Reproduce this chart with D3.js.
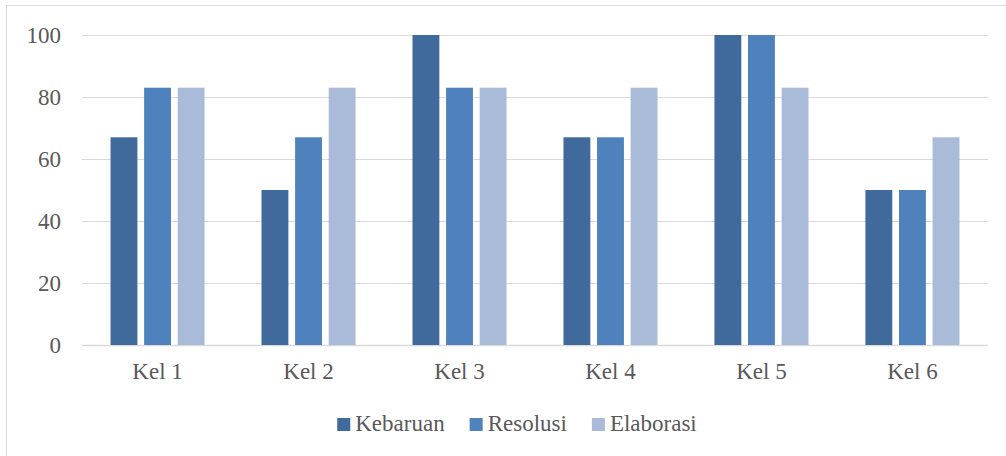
<!DOCTYPE html>
<html>
<head>
<meta charset="utf-8">
<script src="https://cdn.jsdelivr.net/npm/d3@7"></script>
<style>
  body { margin: 0; background: #fff; }
  svg text { font-family: "Liberation Serif", "Times New Roman", serif !important; fill: #595959; }
</style>
</head>
<body>
<div id="plot"></div>
<script>
// chart values
var categories = ["Kel 1", "Kel 2", "Kel 3", "Kel 4", "Kel 5", "Kel 6"];
var seriesNames = ["Kebaruan", "Resolusi", "Elaborasi"];
var kebaruan = [67, 50, 100, 67, 100, 50];
var resolusi = [83, 67, 83, 67, 100, 50];
var elaborasi = [83, 83, 83, 83, 83, 67];
var yTicks = [0, 20, 40, 60, 80, 100];
var colors = ["#406A9B", "#4F81BD", "#AABBD9"];

var svgWidth = 1006;
var svgHeight = 456;

var margin = { top: 35, right: 18, bottom: 111, left: 82 };
var width = svgWidth - margin.left - margin.right;
var height = svgHeight - margin.top - margin.bottom;

var svg = d3.select("#plot")
  .append("svg")
  .attr("width", svgWidth)
  .attr("height", svgHeight);

// outer border of the chart area
svg.append("rect")
  .attr("x", 6.5)
  .attr("y", 5.5)
  .attr("width", svgWidth + 10)
  .attr("height", svgHeight + 10)
  .attr("fill", "none")
  .attr("stroke", "#d9d9d9");

var chartGroup = svg.append("g")
  .attr("transform", `translate(${margin.left}, ${margin.top})`);

var allSeries = [kebaruan, resolusi, elaborasi];
var rows = categories.map(function (c, i) {
  return { cat: c, values: allSeries.map(function (s, j) { return { name: seriesNames[j], value: s[i] }; }) };
});

var x0 = d3.scaleBand()
  .domain(categories)
  .range([0, width])
  .paddingInner(0.377)
  .paddingOuter(0.189);

var x1 = d3.scaleBand()
  .domain(seriesNames)
  .range([0, x0.bandwidth()])
  .paddingInner(0.2);

var y = d3.scaleLinear()
  .domain([0, 100])
  .range([height, 0]);

var color = d3.scaleOrdinal().domain(seriesNames).range(colors);

// gridlines
chartGroup.append("g")
  .selectAll("line")
  .data(yTicks)
  .enter()
  .append("line")
  .attr("x1", 0)
  .attr("x2", width)
  .attr("y1", d => Math.round(y(d)) + 0.5)
  .attr("y2", d => Math.round(y(d)) + 0.5)
  .attr("stroke", "#d9d9d9")
  .attr("stroke-width", d => d === 0 ? 1.5 : 1);

// y axis labels
var leftAxis = d3.axisLeft(y).tickValues(yTicks).tickSize(0).tickPadding(21);
var yAxisG = chartGroup.append("g").call(leftAxis);
yAxisG.attr("font-family", null).attr("font-size", null);
yAxisG.select(".domain").remove();
yAxisG.selectAll("text")
  .style("font-size", "23px")
  .attr("fill", "#595959");

// bars
var groups = chartGroup.selectAll(".cat")
  .data(rows)
  .enter()
  .append("g")
  .attr("class", "cat")
  .attr("transform", d => `translate(${x0(d.cat)}, 0)`);

groups.selectAll("rect")
  .data(d => d.values)
  .enter()
  .append("rect")
  .attr("x", d => x1(d.name))
  .attr("y", d => y(d.value))
  .attr("width", x1.bandwidth())
  .attr("height", d => height - y(d.value))
  .attr("fill", d => color(d.name));

// x axis labels
var bottomAxis = d3.axisBottom(x0).tickSize(0).tickPadding(18);
var xAxisG = chartGroup.append("g")
  .attr("transform", `translate(0, ${height})`)
  .call(bottomAxis);
xAxisG.attr("font-family", null).attr("font-size", null);
xAxisG.select(".domain").remove();
xAxisG.selectAll("text")
  .style("font-size", "23px")
  .attr("fill", "#595959");

// legend
var legend = svg.append("g");
var lx = 0;
seriesNames.forEach(function (name, i) {
  var item = legend.append("g").attr("transform", `translate(${lx}, 0)`);
  item.append("rect")
    .attr("x", 0)
    .attr("y", -13)
    .attr("width", 13)
    .attr("height", 13)
    .attr("fill", colors[i]);
  var t = item.append("text")
    .attr("x", 18)
    .attr("y", 0)
    .style("font-size", "23px")
    .text(name);
  lx += 18 + t.node().getComputedTextLength() + 25;
});
var legendWidth = lx - 25;
legend.attr("transform", `translate(${517 - legendWidth / 2}, 431)`);
</script>
</body>
</html>
